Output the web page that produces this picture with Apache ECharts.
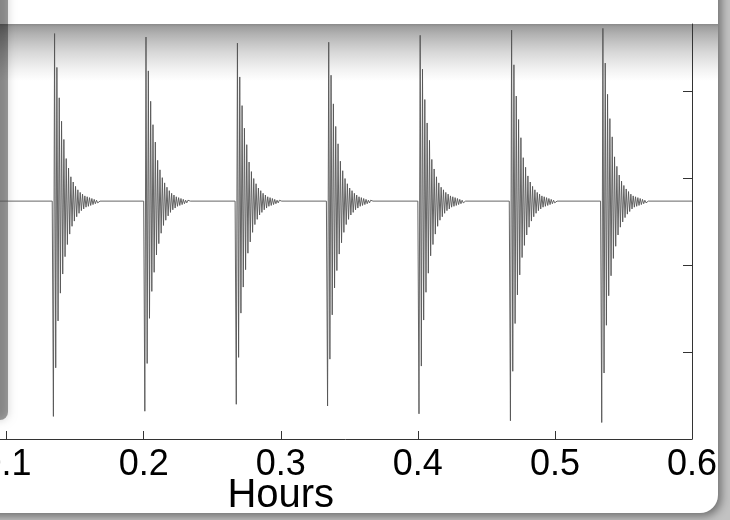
<!DOCTYPE html>
<html><head><meta charset="utf-8">
<script src="https://cdn.jsdelivr.net/npm/echarts@6/dist/echarts.min.js"></script>
<style>html,body{margin:0;padding:0;background:#c2c2c2;} #c{width:730px;height:520px;}</style>
</head><body><div id="c"></div>
<script>
// ---- data ----
const xTicks = [0, 0.1, 0.2, 0.3, 0.4, 0.5, 0.6];
const yTicks = [0, 1, 2, 3, 4];
const baseline = 2.74;
const burstStarts = [0.1333, 0.2, 0.2667, 0.3333, 0.4, 0.4667, 0.5333];
const halfPeriod = 0.00085; // hours between successive extremes
const burst1 = [0.26, 4.67, 0.82, 4.28, 1.36, 3.93, 1.68, 3.66, 1.90, 3.45, 2.10, 3.23, 2.24, 3.12, 2.36, 3.02, 2.45, 2.96, 2.51, 2.91, 2.56, 2.87, 2.60, 2.84, 2.63, 2.82, 2.65, 2.80, 2.67, 2.79, 2.68, 2.78, 2.69, 2.77, 2.70, 2.76, 2.71, 2.75, 2.72, 2.74];
const burst2 = [0.32, 4.63, 0.87, 4.24, 1.39, 3.89, 1.70, 3.62, 1.92, 3.42, 2.12, 3.21, 2.25, 3.10, 2.37, 3.01, 2.46, 2.95, 2.52, 2.90, 2.57, 2.86, 2.61, 2.83, 2.64, 2.81, 2.66, 2.79, 2.68, 2.78, 2.69, 2.77, 2.70, 2.76, 2.71, 2.75, 2.72, 2.75, 2.73, 2.74];
const burst3 = [0.40, 4.56, 0.94, 4.17, 1.45, 3.84, 1.75, 3.58, 1.95, 3.39, 2.14, 3.19, 2.27, 3.08, 2.38, 3.00, 2.47, 2.94, 2.53, 2.89, 2.58, 2.86, 2.61, 2.83, 2.64, 2.81, 2.66, 2.79, 2.68, 2.78, 2.69, 2.77, 2.70, 2.76, 2.71, 2.75, 2.72, 2.75, 2.73, 2.74];
const burst4 = [0.38, 4.57, 0.92, 4.19, 1.43, 3.86, 1.74, 3.60, 1.94, 3.40, 2.13, 3.20, 2.26, 3.09, 2.38, 3.00, 2.47, 2.94, 2.53, 2.89, 2.58, 2.86, 2.61, 2.83, 2.64, 2.81, 2.66, 2.79, 2.68, 2.78, 2.69, 2.77, 2.70, 2.76, 2.71, 2.75, 2.72, 2.75, 2.73, 2.74];
const burst5 = [0.29, 4.65, 0.84, 4.26, 1.37, 3.91, 1.69, 3.64, 1.91, 3.44, 2.11, 3.22, 2.24, 3.11, 2.36, 3.02, 2.45, 2.95, 2.52, 2.90, 2.56, 2.87, 2.60, 2.84, 2.63, 2.82, 2.65, 2.80, 2.67, 2.79, 2.68, 2.78, 2.69, 2.77, 2.70, 2.76, 2.71, 2.75, 2.72, 2.74];
const burst6 = [0.21, 4.71, 0.78, 4.31, 1.33, 3.95, 1.66, 3.68, 1.89, 3.47, 2.09, 3.24, 2.23, 3.13, 2.35, 3.03, 2.44, 2.96, 2.51, 2.91, 2.56, 2.87, 2.60, 2.84, 2.63, 2.82, 2.65, 2.80, 2.67, 2.79, 2.68, 2.78, 2.69, 2.77, 2.70, 2.76, 2.71, 2.75, 2.72, 2.74];
const burst7 = [0.19, 4.73, 0.76, 4.33, 1.31, 3.97, 1.65, 3.69, 1.88, 3.48, 2.08, 3.25, 2.22, 3.14, 2.35, 3.04, 2.44, 2.97, 2.50, 2.92, 2.55, 2.88, 2.59, 2.85, 2.62, 2.82, 2.65, 2.80, 2.67, 2.79, 2.68, 2.78, 2.69, 2.77, 2.70, 2.76, 2.71, 2.75, 2.72, 2.74];
const bursts = [burst1, burst2, burst3, burst4, burst5, burst6, burst7];

// ---- build the trace ----
const trace = [[xTicks[0], baseline]];
bursts.forEach((b, i) => {
  const t0 = burstStarts[i];
  trace.push([t0, baseline]);
  b.forEach((v, k) => trace.push([t0 + (k + 1) * halfPeriod, v]));
  trace.push([t0 + (b.length + 1) * halfPeriod, baseline]);
});
trace.push([xTicks[xTicks.length - 1], baseline]);

const FONT = 'Liberation Sans, Arial, sans-serif';
const chart = echarts.init(document.getElementById('c'), null, {renderer: 'canvas'});
chart.setOption({
  animation: false,
  backgroundColor: '#c2c2c2',
  graphic: {elements: [
    {type: 'rect', z: -20, shape: {x: -40, y: -40, width: 758, height: 553, r: [0, 0, 18, 0]},
     style: {fill: '#ffffff', shadowBlur: 10, shadowColor: 'rgba(0,0,0,0.45)', shadowOffsetX: 3, shadowOffsetY: 3}},
    {type: 'rect', z: -19, shape: {x: 0, y: 24, width: 718, height: 57},
     style: {fill: new echarts.graphic.LinearGradient(0, 0, 0, 1, [
       {offset: 0, color: '#8a8a8a'}, {offset: 0.05, color: '#9e9e9e'}, {offset: 0.18, color: '#b2b2b2'},
       {offset: 0.34, color: '#c6c6c6'}, {offset: 0.5, color: '#d8d8d8'}, {offset: 0.66, color: '#e6e6e6'},
       {offset: 0.8, color: '#f2f2f2'}, {offset: 0.92, color: '#fafafa'}, {offset: 1, color: '#ffffff'}])}},
    {type: 'rect', z: -18, shape: {x: -40, y: -40, width: 48, height: 460, r: 8},
     style: {fill: 'rgba(0,0,0,0.36)', shadowBlur: 8, shadowColor: 'rgba(0,0,0,0.5)'}}
  ]},
  grid: {left: -130.5, right: 38, top: 24, bottom: 81, containLabel: false, outerBoundsMode: 'none'},
  xAxis: {
    type: 'value', min: xTicks[0], max: xTicks[xTicks.length - 1], interval: 0.1,
    axisLine: {show: true, lineStyle: {color: '#333', width: 1}},
    axisTick: {show: true, inside: true, length: 8, lineStyle: {color: '#333', width: 1}},
    axisLabel: {show: true, fontSize: 36, fontFamily: FONT, color: '#000', margin: 8,
      formatter: v => String(Math.round(v * 10) / 10)},
    splitLine: {show: false},
    name: 'Hours', nameLocation: 'middle', nameGap: 37, nameMoveOverlap: false,
    nameTextStyle: {fontSize: 40, fontFamily: FONT, color: '#000'}
  },
  yAxis: [
    {type: 'value', min: 0, max: 4.78, interval: 1, position: 'left',
     axisLine: {show: true, lineStyle: {color: '#333'}}, axisTick: {show: true, inside: true, length: 9},
     axisLabel: {show: false}, splitLine: {show: false}},
    {type: 'value', min: 0, max: 4.78, interval: 1, position: 'right',
     axisLine: {show: true, lineStyle: {color: '#333', width: 1}},
     axisTick: {show: true, inside: true, length: 9, customValues: yTicks, lineStyle: {color: '#333'}},
     axisLabel: {show: false}, splitLine: {show: false}}
  ],
  series: [{
    type: 'line', data: trace, showSymbol: false,
    lineStyle: {color: '#555', width: 0.9}, z: 3, clip: true
  }]
});
</script></body></html>
